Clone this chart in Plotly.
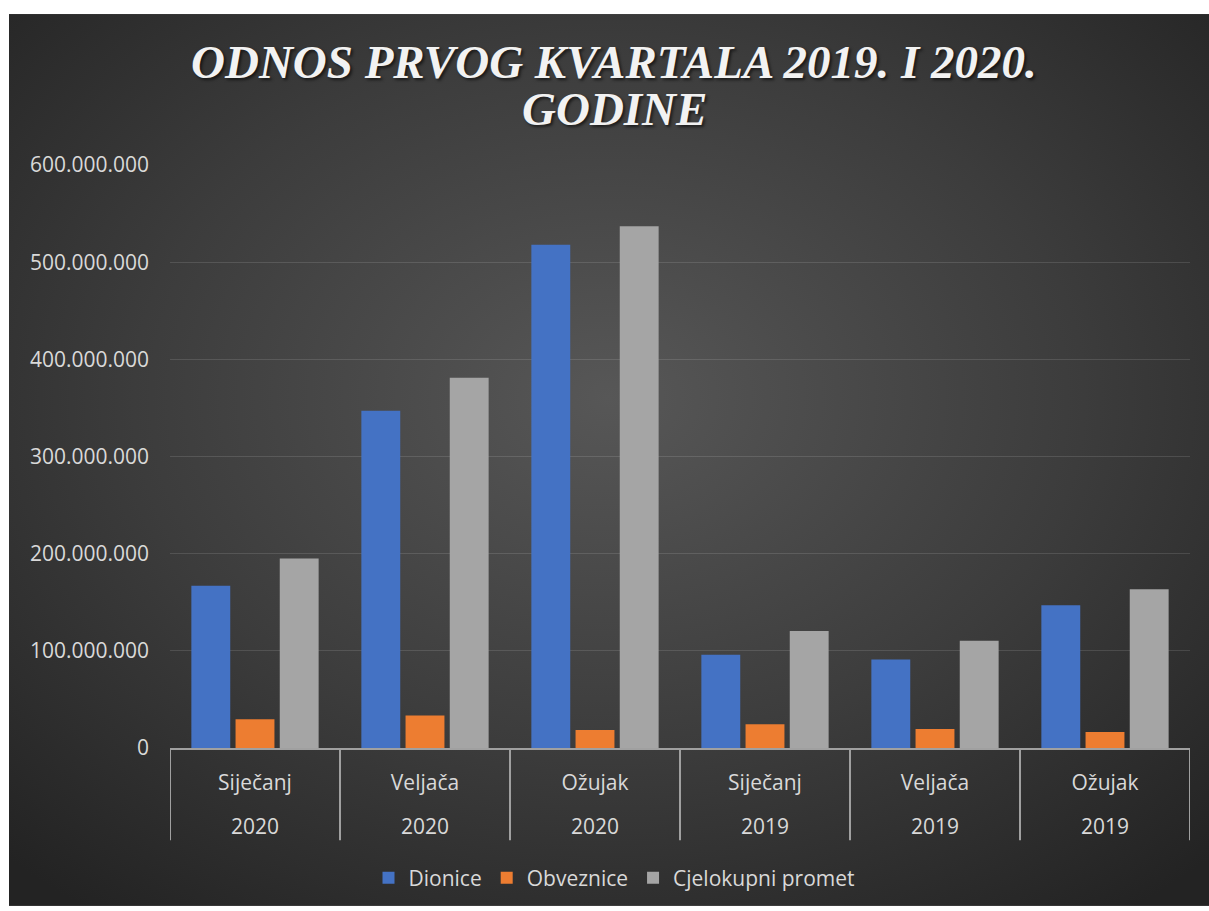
import base64
import plotly.graph_objects as go

months = ["Siječanj", "Veljača", "Ožujak", "Siječanj", "Veljača", "Ožujak"]
years = ["2020", "2020", "2020", "2019", "2019", "2019"]
dionice = [167_000_000, 347_000_000, 518_000_000, 96_000_000, 91_000_000, 147_000_000]
obveznice = [29_500_000, 33_500_000, 18_500_000, 24_500_000, 19_500_000, 16_500_000]
cjelokupni = [195_000_000, 381_000_000, 537_000_000, 120_500_000, 110_500_000, 163_500_000]
y_ticks = [0, 100_000_000, 200_000_000, 300_000_000, 400_000_000, 500_000_000, 600_000_000]

cats = [f"{m} {y}" for m, y in zip(months, years)]

W, H = 1209, 911
ML, MR, MT, MB = 170, 19, 165, 159
PW, PH = W - ML - MR, H - MT - MB

def px_x(p):
    return (p - ML) / PW

def px_y(p):
    return (H - MB - p) / PH

font_main = "Open Sans, DejaVu Sans, sans-serif"
txt_col = "#d9d9d9"
FS = 21

fig = go.Figure()
fig.add_bar(x=cats, y=dionice, name="Dionice", marker_color="#4472C4", marker_line_width=0)
fig.add_bar(x=cats, y=obveznice, name="Obveznice", marker_color="#ED7D31", marker_line_width=0)
fig.add_bar(x=cats, y=cjelokupni, name="Cjelokupni promet", marker_color="#A5A5A5", marker_line_width=0)

svg = (
    "<svg xmlns='http://www.w3.org/2000/svg' width='1200' height='898' preserveAspectRatio='none'>"
    "<defs><radialGradient id='g' cx='50%' cy='43%' r='72%'>"
    "<stop offset='0' stop-color='#575757'/><stop offset='0.55' stop-color='#3c3c3c'/>"
    "<stop offset='1' stop-color='#232323'/></radialGradient></defs>"
    "<rect width='1200' height='898' fill='url(#g)'/></svg>"
)
src = "data:image/svg+xml;base64," + base64.b64encode(svg.encode()).decode()

fig.add_layout_image(
    source=src, xref="paper", yref="paper",
    x=px_x(9), y=px_y(13), sizex=(W - 9) / PW, sizey=(H - 13) / PH,
    xanchor="left", yanchor="top", sizing="stretch", layer="below",
)

# category separators below the axis
sep_col = "#a0a0a0"
for i in range(len(cats) + 1):
    fig.add_shape(type="line", xref="x", yref="paper",
                  x0=i - 0.5, x1=i - 0.5, y0=0, y1=px_y(845),
                  line=dict(color=sep_col, width=2))

# second level (year) labels
for c, y in zip(cats, years):
    fig.add_annotation(text=y, xref="x", yref="paper", x=c, y=px_y(831),
                       xanchor="center", yanchor="middle", showarrow=False,
                       font=dict(family=font_main, size=FS, color=txt_col))

title_font = dict(family="Liberation Serif, Times New Roman, serif", size=47,
                  color="#f2f2f2", weight="bold", style="italic",
                  shadow="2px 2px 3px rgba(0,0,0,0.6)")
fig.add_annotation(text="ODNOS PRVOG KVARTALA 2019. I 2020.", xref="paper", yref="paper",
                   x=px_x(614), y=px_y(61), xanchor="center", yanchor="middle",
                   showarrow=False, font=title_font)
fig.add_annotation(text="GODINE", xref="paper", yref="paper",
                   x=px_x(614), y=px_y(109), xanchor="center", yanchor="middle",
                   showarrow=False, font=title_font)

fig.update_layout(
    width=W, height=H,
    margin=dict(l=ML, r=MR, t=MT, b=MB, pad=0),
    paper_bgcolor="white", plot_bgcolor="rgba(0,0,0,0)",
    separators=",.",
    barmode="group", bargap=0.22, bargroupgap=0.12,
    font=dict(family=font_main, size=FS, color=txt_col),
    showlegend=True,
    legend=dict(orientation="h", x=px_x(614), xanchor="center", y=px_y(883), yanchor="middle",
                font=dict(size=FS, color=txt_col), bgcolor="rgba(0,0,0,0)",
                itemwidth=30, traceorder="normal"),
    xaxis=dict(type="category", tickvals=cats, ticktext=months, ticks="",
               showline=True, linecolor=sep_col, linewidth=2, showgrid=False,
               tickfont=dict(size=FS, color=txt_col), ticklabelstandoff=15,
               range=[-0.5, len(cats) - 0.5]),
    yaxis=dict(range=[0, 600_000_000], tickvals=y_ticks, tickformat=",d",
               showgrid=True, gridcolor="rgba(255,255,255,0.12)", gridwidth=1,
               zeroline=False, showline=False, ticks="",
               tickfont=dict(size=FS, color=txt_col), ticklabelstandoff=20),
)

fig.write_html("out.html")
